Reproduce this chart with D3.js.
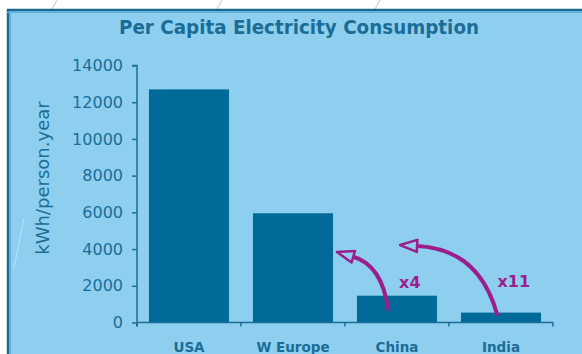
<!DOCTYPE html>
<html>
<head>
<meta charset="utf-8">
<script src="https://cdn.jsdelivr.net/npm/d3@7/dist/d3.min.js"></script>
<style>
  html, body { margin: 0; padding: 0; background: #ffffff; }
  svg { display: block; }
</style>
</head>
<body>
<svg id="chart" width="582" height="354"></svg>
<script>
// Per capita electricity consumption, kWh per person per year
const categories = ["USA", "W Europe", "China", "India"];
const consumption = [12700, 5950, 1460, 540];
const yTicks = [0, 2000, 4000, 6000, 8000, 10000, 12000, 14000];

// Growth arrows: from a low-use country up to the W Europe level.
// Positions are [fraction of the country's band, kWh].
const arrowCats  = ["China", "India"];
const arrowStart = [[0.39, 735], [0.45, 463]];
const arrowBend  = [[0.31, 3130], [0.225, 4004]];
const arrowTip   = [[-0.25, 3840], [-0.76, 4220]];
const labelPos   = [[0.66, 1880], [0.66, 1930]];

const textBlue = "#1b6d96";
const barBlue = "#006a98";
const panelBlue = "#8ecff0";
const magenta = "#9b1e8c";

const svg = d3.select("#chart");

// faint decorative strokes on the page behind the panel
const deco = [[52, 9, 57, 0], [217, 9, 222, 0], [375, 9, 380, 0]];
svg.selectAll("line.deco").data(deco).join("line")
  .attr("x1", d => d[0]).attr("y1", d => d[1]).attr("x2", d => d[2]).attr("y2", d => d[3])
  .attr("stroke", "#c8c8c8").attr("stroke-width", 1);

// panel
svg.append("rect").attr("x", 7).attr("y", 9).attr("width", 600).attr("height", 360)
  .attr("fill", panelBlue);
svg.append("line").attr("x1", 7).attr("x2", 582).attr("y1", 10).attr("y2", 10)
  .attr("stroke", "#1a6a94").attr("stroke-width", 2.5);
svg.append("line").attr("x1", 8).attr("x2", 8).attr("y1", 9).attr("y2", 354)
  .attr("stroke", "#1a6a94").attr("stroke-width", 2.5);
svg.append("line").attr("x1", 7).attr("x2", 582).attr("y1", 12.3).attr("y2", 12.3)
  .attr("stroke", "#5eaed8").attr("stroke-width", 1.5);
svg.append("line").attr("x1", 10.3).attr("x2", 10.3).attr("y1", 12).attr("y2", 354)
  .attr("stroke", "#5eaed8").attr("stroke-width", 1.5);
svg.append("line").attr("x1", 14).attr("y1", 268).attr("x2", 24).attr("y2", 218)
  .attr("stroke", "#b9e2f6").attr("stroke-width", 1);

// title
svg.append("text")
  .attr("x", 299).attr("y", 34)
  .attr("text-anchor", "middle")
  .attr("font-family", "DejaVu Sans Condensed, DejaVu Sans, sans-serif")
  .attr("font-weight", "bold")
  .attr("font-size", 20)
  .attr("textLength", 360).attr("lengthAdjust", "spacingAndGlyphs")
  .attr("fill", textBlue)
  .text("Per Capita Electricity Consumption");

// scales
const x = d3.scaleBand().domain(categories).range([137, 553])
  .paddingInner(0.23).paddingOuter(0.115);
const y = d3.scaleLinear().domain([0, 14000]).range([322.5, 65.5]);
const byCat = new Map(categories.map((c, i) => [c, consumption[i]]));
const px = (cat, f) => x(cat) + f * x.bandwidth();

// bars
svg.selectAll("rect.bar").data(categories).join("rect")
  .attr("class", "bar")
  .attr("x", d => x(d))
  .attr("width", x.bandwidth())
  .attr("y", d => y(byCat.get(d)))
  .attr("height", d => y(0) - y(byCat.get(d)))
  .attr("fill", barBlue);

// y axis
const yAxis = svg.append("g").attr("transform", "translate(137,0)")
  .call(d3.axisLeft(y).tickValues(yTicks).tickSize(5).tickPadding(9).tickFormat(d3.format("d")));
yAxis.select(".domain").attr("d", `M-5,${y(14000)}H0V${y(0) + 4}`);
yAxis.selectAll("path, line").attr("stroke", textBlue).attr("stroke-width", 1.5);
yAxis.selectAll("text")
  .attr("fill", textBlue)
  .attr("font-family", "DejaVu Sans, Verdana, sans-serif")
  .attr("font-size", 16);

// x axis: line with ticks at band boundaries, labels centred on bands
const xg = svg.append("g");
const [x0, x1] = x.range();
xg.append("line").attr("x1", x0).attr("x2", x1).attr("y1", y(0)).attr("y2", y(0))
  .attr("stroke", textBlue).attr("stroke-width", 1.5);
xg.selectAll("line.tick").data(d3.range(categories.length + 1)).join("line")
  .attr("x1", i => x0 + i * x.step()).attr("x2", i => x0 + i * x.step())
  .attr("y1", y(0)).attr("y2", y(0) + 4)
  .attr("stroke", textBlue).attr("stroke-width", 1.5);
xg.selectAll("text").data(categories).join("text")
  .attr("x", d => x(d) + x.bandwidth() / 2)
  .attr("y", 352)
  .attr("text-anchor", "middle")
  .attr("font-family", "DejaVu Sans, Verdana, sans-serif")
  .attr("font-weight", "bold")
  .attr("font-size", 13.5)
  .attr("fill", textBlue)
  .text(d => d);

// y axis title
svg.append("text")
  .attr("transform", "translate(49,178) rotate(-90)")
  .attr("text-anchor", "middle")
  .attr("font-family", "DejaVu Sans, Verdana, sans-serif")
  .attr("font-size", 18)
  .attr("fill", textBlue)
  .text("kWh/person.year");

// growth arrows with hollow heads
const headLen = 17, headW = 12;
arrowCats.forEach((cat, i) => {
  const p0 = [px(cat, arrowStart[i][0]), y(arrowStart[i][1])];
  const c  = [px(cat, arrowBend[i][0]), y(arrowBend[i][1])];
  const tip = [px(cat, arrowTip[i][0]), y(arrowTip[i][1])];
  const dx = tip[0] - c[0], dy = tip[1] - c[1];
  const len = Math.hypot(dx, dy);
  const ux = dx / len, uy = dy / len;
  const base = [tip[0] - ux * headLen, tip[1] - uy * headLen];
  const path = d3.path();
  path.moveTo(p0[0], p0[1]);
  path.quadraticCurveTo(c[0], c[1], base[0], base[1]);
  svg.append("path").attr("d", path.toString())
    .attr("fill", "none").attr("stroke", magenta).attr("stroke-width", 4)
    .attr("stroke-linecap", "round");
  const nx = -uy, ny = ux;
  const head = [
    [tip[0], tip[1]],
    [base[0] + nx * headW / 2, base[1] + ny * headW / 2],
    [base[0] - nx * headW / 2, base[1] - ny * headW / 2]
  ];
  svg.append("polygon").attr("points", head.map(p => p.join(",")).join(" "))
    .attr("fill", panelBlue).attr("stroke", magenta).attr("stroke-width", 2.5)
    .attr("stroke-linejoin", "round");

  const ratio = Math.round(byCat.get("W Europe") / byCat.get(cat));
  svg.append("text")
    .attr("x", px(cat, labelPos[i][0])).attr("y", y(labelPos[i][1]))
    .attr("text-anchor", "middle")
    .attr("font-family", "DejaVu Sans, Verdana, sans-serif")
    .attr("font-weight", "bold")
    .attr("font-size", 16)
    .attr("fill", magenta)
    .text("x" + ratio);
});
</script>
</body>
</html>
